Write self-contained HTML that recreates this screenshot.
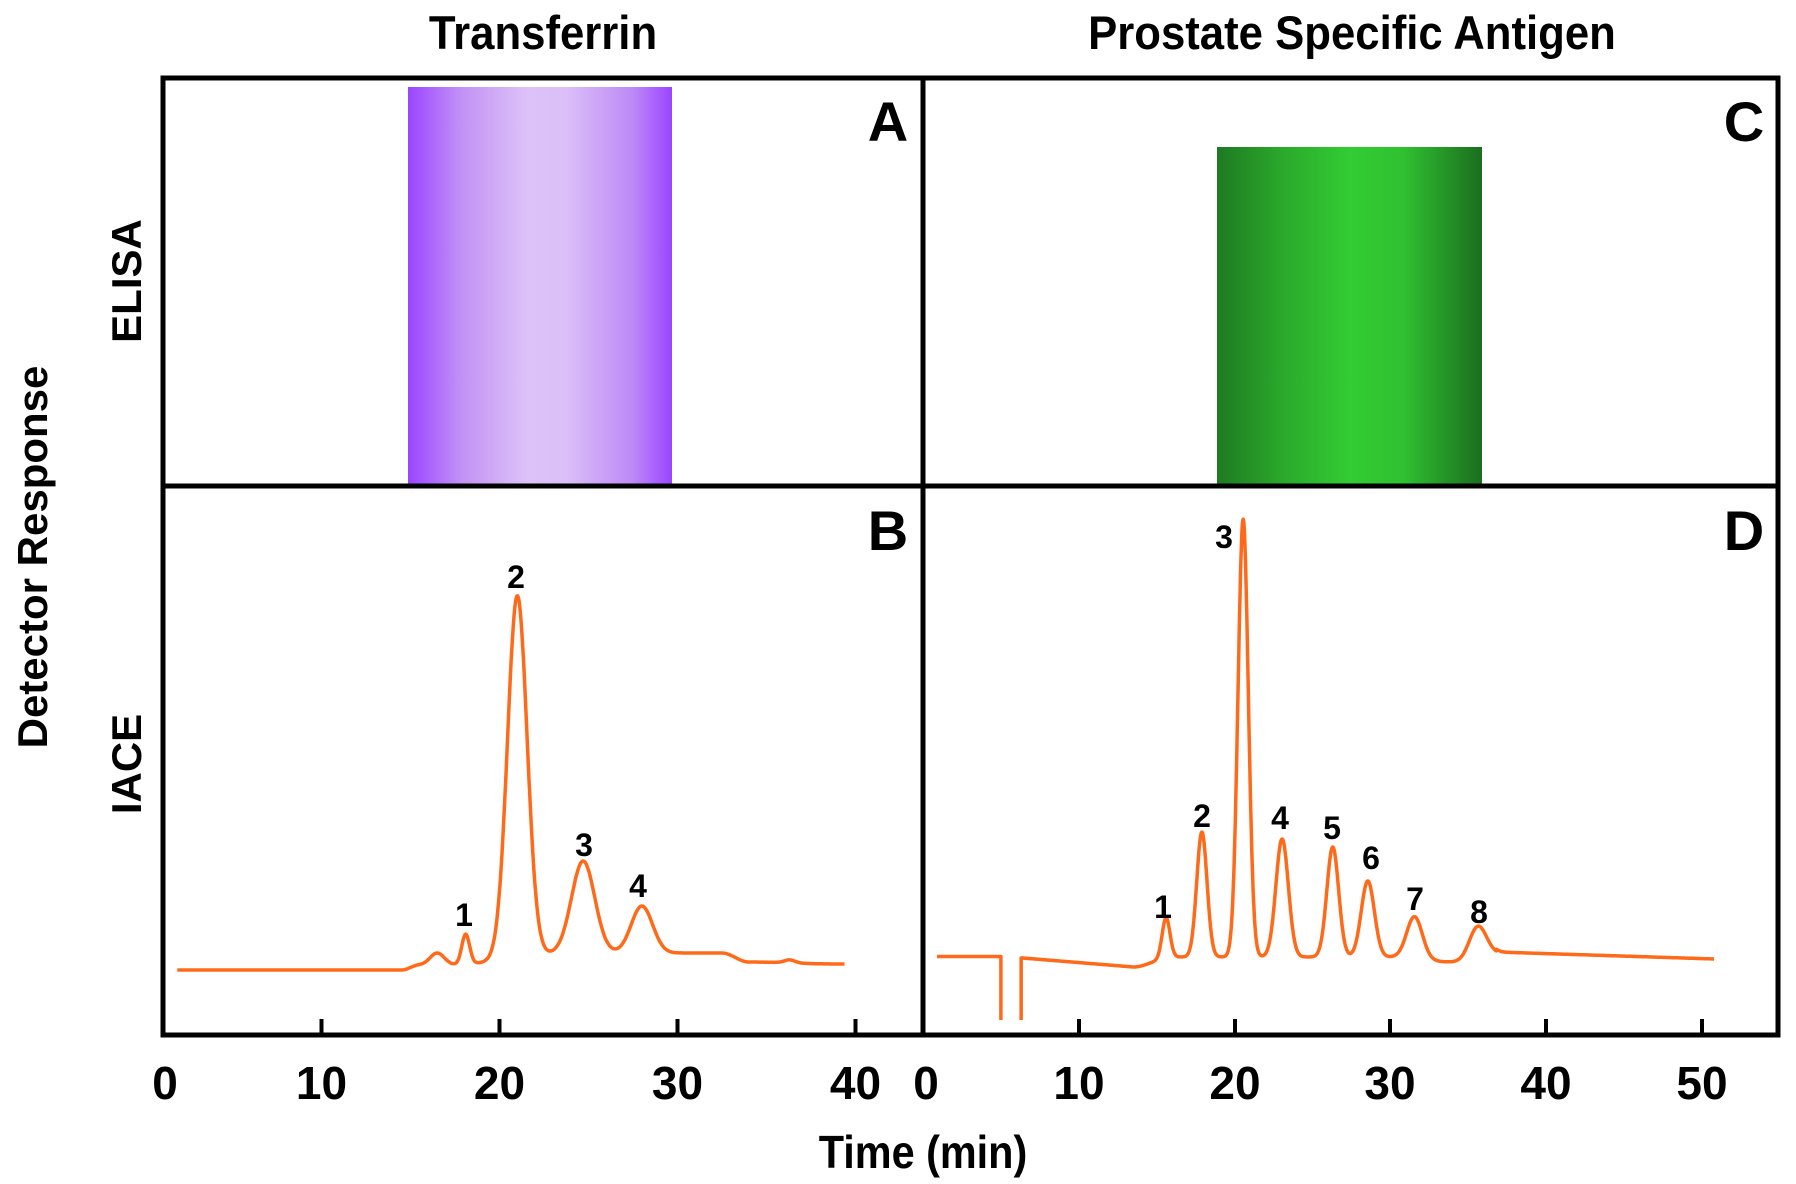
<!DOCTYPE html>
<html><head><meta charset="utf-8">
<style>
html,body{margin:0;padding:0;background:#fff;}
svg{display:block;}
text{font-family:"Liberation Sans",Arial,sans-serif;font-weight:bold;fill:#000;}
</style></head>
<body>
<svg id="s" width="1796" height="1184" viewBox="0 0 1796 1184" xmlns="http://www.w3.org/2000/svg">
<defs>
<linearGradient id="gp" x1="0" x2="1" y1="0" y2="0">
<stop offset="0" stop-color="#9a45ff"/>
<stop offset="0.2" stop-color="#c291f5"/>
<stop offset="0.45" stop-color="#dcc2f8"/>
<stop offset="0.6" stop-color="#dbbff8"/>
<stop offset="0.85" stop-color="#bd8af6"/>
<stop offset="1" stop-color="#9a45ff"/>
</linearGradient>
<linearGradient id="gg" x1="0" x2="1" y1="0" y2="0">
<stop offset="0" stop-color="#1e7a22"/>
<stop offset="0.25" stop-color="#2ba92c"/>
<stop offset="0.5" stop-color="#33cc33"/>
<stop offset="0.7" stop-color="#30c131"/>
<stop offset="1" stop-color="#1b6e1f"/>
</linearGradient>
</defs>
<rect x="408" y="87" width="264" height="399" fill="url(#gp)"/>
<rect x="1217" y="147" width="265" height="339" fill="url(#gg)"/>
<path id="pb" fill="none" stroke="#ff6a1a" stroke-width="3.5" stroke-linejoin="round"/>
<path id="pd" fill="none" stroke="#ff6a1a" stroke-width="3.5" stroke-linejoin="round"/>
<rect x="163" y="78" width="1615" height="957" fill="none" stroke="#000" stroke-width="5"/>
<line x1="923" y1="78" x2="923" y2="1035" stroke="#000" stroke-width="5"/>
<line x1="163" y1="486" x2="1778" y2="486" stroke="#000" stroke-width="5"/>
<g stroke="#000" stroke-width="4">
<line x1="321.5" y1="1035" x2="321.5" y2="1019"/>
<line x1="499.5" y1="1035" x2="499.5" y2="1019"/>
<line x1="677.5" y1="1035" x2="677.5" y2="1019"/>
<line x1="855.5" y1="1035" x2="855.5" y2="1019"/>
<line x1="1079" y1="1035" x2="1079" y2="1019"/>
<line x1="1235" y1="1035" x2="1235" y2="1019"/>
<line x1="1390" y1="1035" x2="1390" y2="1019"/>
<line x1="1546" y1="1035" x2="1546" y2="1019"/>
<line x1="1702" y1="1035" x2="1702" y2="1019"/>
</g>
<g font-size="46" text-anchor="middle">
<text x="165" y="1099">0</text>
<text x="321.5" y="1099">10</text>
<text x="499.5" y="1099">20</text>
<text x="677.5" y="1099">30</text>
<text x="855.5" y="1099">40</text>
<text x="926" y="1099">0</text>
<text x="1079" y="1099">10</text>
<text x="1235" y="1099">20</text>
<text x="1390" y="1099">30</text>
<text x="1546" y="1099">40</text>
<text x="1702" y="1099">50</text>
</g>
<text x="923" y="1168" font-size="46" text-anchor="middle" transform="translate(923 0) scale(0.9 1) translate(-923 0)">Time (min)</text>
<text x="543" y="49" font-size="47" text-anchor="middle" transform="translate(543 0) scale(0.93 1) translate(-543 0)">Transferrin</text>
<text x="1352" y="49" font-size="47" text-anchor="middle" transform="translate(1352 0) scale(0.93 1) translate(-1352 0)">Prostate Specific Antigen</text>
<g font-size="56" text-anchor="middle">
<text x="888" y="141">A</text>
<text x="1744" y="141">C</text>
<text x="888" y="550">B</text>
<text x="1744" y="550">D</text>
</g>
<g font-size="42" text-anchor="middle">
<text transform="translate(141 281) rotate(-90)">ELISA</text>
<text transform="translate(141 764) rotate(-90)">IACE</text>
<text transform="translate(47 557) rotate(-90)">Detector Response</text>
</g>
<g font-size="32" text-anchor="middle">
<text x="464" y="926">1</text>
<text x="516" y="588">2</text>
<text x="584" y="856">3</text>
<text x="638" y="897">4</text>
<text x="1163" y="918">1</text>
<text x="1202" y="827">2</text>
<text x="1224" y="548">3</text>
<text x="1280" y="829">4</text>
<text x="1332" y="839">5</text>
<text x="1371" y="869">6</text>
<text x="1415" y="910">7</text>
<text x="1479" y="923">8</text>
</g>
</svg>
<script>
function g(t,m,s){return Math.exp(-0.5*Math.pow((t-m)/s,2));}
function sm(t,a,b){if(t<=a)return 0;if(t>=b)return 1;var u=(t-a)/(b-a);return u*u*(3-2*u);}
(function(){
 var d="";
 for(var t=1.9;t<=39.4;t+=0.04){
  var base=970-5*sm(t,14.5,15.5)-12*sm(t,17,24)+9*sm(t,32.5,34)+2*sm(t,34,39);
  var y=base-12*g(t,16.5,0.4)-30*g(t,18.1,0.22)-362*g(t,21,0.55)-92*g(t,24.7,0.65)-47*g(t,28.0,0.6)-3*g(t,36.3,0.3);
  var x=143.5+t*17.8;
  d+=(d?"L":"M")+x.toFixed(1)+" "+y.toFixed(1);
 }
 document.getElementById("pb").setAttribute("d",d);
})();
(function(){
 var X=function(t){return 923+t*15.58;};
 var d="M"+X(0.9)+" 956.5L"+X(5.0)+" 956.5L"+X(5.0)+" 1020";
 d+="M"+X(6.3)+" 1020L"+X(6.3)+" 958";
 for(var t=6.4;t<=50.8;t+=0.03){
  var base;
  if(t<13.5) base=958+9*(t-6.4)/7.1;
  else base=967-10*sm(t,13.5,16)+5*sm(t,30,34) -8*sm(t,34.5,36.8);
  if(t>36.8) base=952+7*(t-36.8)/14;
  var y=base-40*g(t,15.6,0.25)-125*g(t,17.9,0.33)-438*g(t,20.55,0.33)-118*g(t,23.05,0.4)-110*g(t,26.3,0.38)-76*g(t,28.55,0.42)-42*g(t,31.55,0.5)-32*g(t,35.6,0.55);
  d+="L"+X(t).toFixed(1)+" "+y.toFixed(1);
 }
 document.getElementById("pd").setAttribute("d",d);
})();
</script>
</body></html>
